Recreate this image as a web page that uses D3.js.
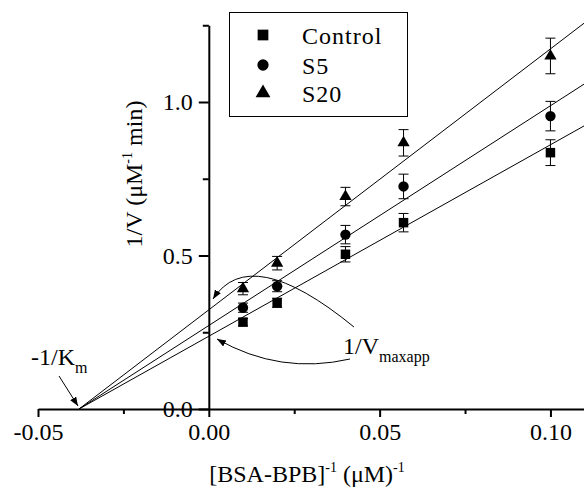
<!DOCTYPE html>
<html>
<head>
<meta charset="utf-8">
<script src="https://cdn.jsdelivr.net/npm/d3@7"></script>
<style>
  body { margin: 0; background: #fff; }
  svg text { font-family: "Liberation Serif", Tinos, "Times New Roman", Times, "DejaVu Serif", "Noto Serif", serif; fill: #000; }
  .axis path, .axis line { stroke: #000; stroke-width: 2; }
  .axis text { font-size: 24px; }
</style>
</head>
<body>
<svg width="584" height="488"></svg>
<script>
// Lineweaver-Burk data
var xVals = [0.01, 0.02, 0.04, 0.057, 0.10];
var seriesNames = ["Control", "S5", "S20"];
var controlVals = [0.283, 0.346, 0.504, 0.607, 0.835];
var s5Vals = [0.330, 0.400, 0.568, 0.725, 0.954];
var s20Vals = [0.392, 0.475, 0.692, 0.867, 1.150];
var controlErr = [0.012, 0.015, 0.025, 0.030, 0.042];
var s5Err = [0.015, 0.018, 0.030, 0.040, 0.048];
var s20Err = [0.020, 0.022, 0.030, 0.043, 0.058];
// fitted lines: common x intercept (-1/Km) and y intercepts (1/Vmaxapp)
var xIntercept = -0.038;
var fitIntercepts = [0.237, 0.272, 0.323];
var xMajor = [-0.05, 0, 0.05, 0.10];
var xMinor = [-0.025, 0.025, 0.075];
var yMajor = [0, 0.5, 1.0];
var yMinor = [0.25, 0.75, 1.25];

var serifFont = "'Liberation Serif', Tinos, 'Times New Roman', Times, 'DejaVu Serif', serif";
var svg = d3.select("svg");

var x = d3.scaleLinear().domain([-0.05, 0.11]).range([38, 584.6]);
var y = d3.scaleLinear().domain([0, 1.25]).range([409, 25.25]);

var defs = svg.append("defs");
defs.append("marker")
  .attr("id", "arrow")
  .attr("markerUnits", "userSpaceOnUse")
  .attr("markerWidth", 10).attr("markerHeight", 8)
  .attr("refX", 9).attr("refY", 3.5)
  .attr("orient", "auto")
  .append("path")
  .attr("d", "M0,0 L9,3.5 L0,7 z")
  .attr("fill", "#000");

// axes
svg.append("g")
  .attr("class", "axis")
  .attr("transform", "translate(0," + y(0) + ")")
  .call(d3.axisBottom(x).tickValues(xMajor).tickSize(8).tickSizeOuter(0).tickPadding(6)
    .tickFormat(function(d) { return d.toFixed(2); }))
  .attr("font-family", serifFont).attr("font-size", 24);

svg.append("g")
  .attr("class", "axis")
  .attr("transform", "translate(0," + y(0) + ")")
  .call(d3.axisBottom(x).tickValues(xMinor).tickSize(5).tickSizeOuter(0).tickFormat(""))
  .select(".domain").remove();

svg.append("g")
  .attr("class", "axis")
  .attr("transform", "translate(" + x(0) + ",0)")
  .call(d3.axisLeft(y).tickValues(yMajor).tickSize(10).tickSizeOuter(0).tickPadding(6)
    .tickFormat(function(d) { return d.toFixed(1); }))
  .attr("font-family", serifFont).attr("font-size", 24);

svg.append("g")
  .attr("class", "axis")
  .attr("transform", "translate(" + x(0) + ",0)")
  .call(d3.axisLeft(y).tickValues(yMinor).tickSize(6).tickSizeOuter(0).tickFormat(""))
  .select(".domain").remove();

// fit lines
var fitLine = d3.line().x(function(d) { return x(d[0]); }).y(function(d) { return y(d[1]); });
fitIntercepts.forEach(function(b) {
  var slope = -b / xIntercept;
  var x1 = x.domain()[1];
  svg.append("path")
    .attr("d", fitLine([[xIntercept, 0], [x1, b + slope * x1]]))
    .attr("fill", "none")
    .attr("stroke", "#000")
    .attr("stroke-width", 1);
});

// points and error bars
var series = [
  { name: "Control", vals: controlVals, err: controlErr, sym: d3.symbolSquare, size: 90, legSize: 115 },
  { name: "S5", vals: s5Vals, err: s5Err, sym: d3.symbolCircle, size: 85, legSize: 100 },
  { name: "S20", vals: s20Vals, err: s20Err, sym: d3.symbolTriangle, size: 65, legSize: 95 }
];

series.forEach(function(s) {
  var pts = xVals.map(function(xv, i) { return { x: xv, v: s.vals[i], e: s.err[i] }; });
  var eb = svg.append("g").attr("stroke", "#000").attr("stroke-width", 1);
  pts.forEach(function(p) {
    var cx = x(p.x);
    eb.append("line").attr("x1", cx).attr("x2", cx).attr("y1", y(p.v - p.e)).attr("y2", y(p.v + p.e));
    eb.append("line").attr("x1", cx - 5).attr("x2", cx + 5).attr("y1", y(p.v - p.e)).attr("y2", y(p.v - p.e));
    eb.append("line").attr("x1", cx - 5).attr("x2", cx + 5).attr("y1", y(p.v + p.e)).attr("y2", y(p.v + p.e));
  });
  svg.append("g").selectAll("path")
    .data(pts)
    .enter().append("path")
    .attr("transform", function(d) { return "translate(" + x(d.x) + "," + y(d.v) + ")"; })
    .attr("d", d3.symbol().type(s.sym).size(s.size))
    .attr("fill", "#000");
});

// legend
var legend = svg.append("g");
legend.append("rect")
  .attr("x", 229.5).attr("y", 12.5).attr("width", 178).attr("height", 104)
  .attr("fill", "#fff").attr("stroke", "#000").attr("stroke-width", 1);
var legRows = [35, 65, 93];
series.forEach(function(s, i) {
  legend.append("path")
    .attr("transform", "translate(263," + legRows[i] + ")")
    .attr("d", d3.symbol().type(s.sym).size(s.legSize))
    .attr("fill", "#000");
  legend.append("text")
    .attr("x", 302).attr("y", legRows[i] + 9)
    .attr("font-family", serifFont)
    .attr("font-size", 24)
    .attr("letter-spacing", 1)
    .text(seriesNames[i]);
});

// axis titles
var xt = svg.append("text")
  .attr("x", 307).attr("y", 482)
  .attr("text-anchor", "middle")
  .attr("font-family", serifFont)
  .attr("font-size", 24);
xt.append("tspan").text("[BSA-BPB]");
xt.append("tspan").attr("dy", -10).attr("font-size", 14).text("-1");
xt.append("tspan").attr("dy", 10).text(" (\u03bcM)");
xt.append("tspan").attr("dy", -10).attr("font-size", 14).text("-1");

var yt = svg.append("text")
  .attr("transform", "translate(142,174) rotate(-90)")
  .attr("text-anchor", "middle")
  .attr("font-family", serifFont)
  .attr("font-size", 24);
yt.append("tspan").text("1/V (\u03bcM");
yt.append("tspan").attr("dy", -10).attr("font-size", 14).text("-1");
yt.append("tspan").attr("dy", 10).text(" min)");

// annotations
var km = svg.append("text").attr("x", 31).attr("y", 365)
  .attr("font-family", serifFont).attr("font-size", 24);
km.append("tspan").text("-1/K");
km.append("tspan").attr("dy", 8).attr("font-size", 16).text("m");

svg.append("line")
  .attr("x1", 59).attr("y1", 376).attr("x2", x(xIntercept) - 1).attr("y2", y(0) - 3)
  .attr("stroke", "#000").attr("stroke-width", 1)
  .attr("marker-end", "url(#arrow)");

var vm = svg.append("text").attr("x", 343).attr("y", 354)
  .attr("font-family", serifFont).attr("font-size", 24);
vm.append("tspan").text("1/V");
vm.append("tspan").attr("dy", 8).attr("font-size", 16).text("maxapp");

svg.append("path")
  .attr("d", "M354,327 Q250,242 213,299")
  .attr("fill", "none").attr("stroke", "#000").attr("stroke-width", 1)
  .attr("marker-end", "url(#arrow)");

svg.append("path")
  .attr("d", "M350,359 Q280,375 217,339")
  .attr("fill", "none").attr("stroke", "#000").attr("stroke-width", 1)
  .attr("marker-end", "url(#arrow)");
</script>
</body>
</html>
